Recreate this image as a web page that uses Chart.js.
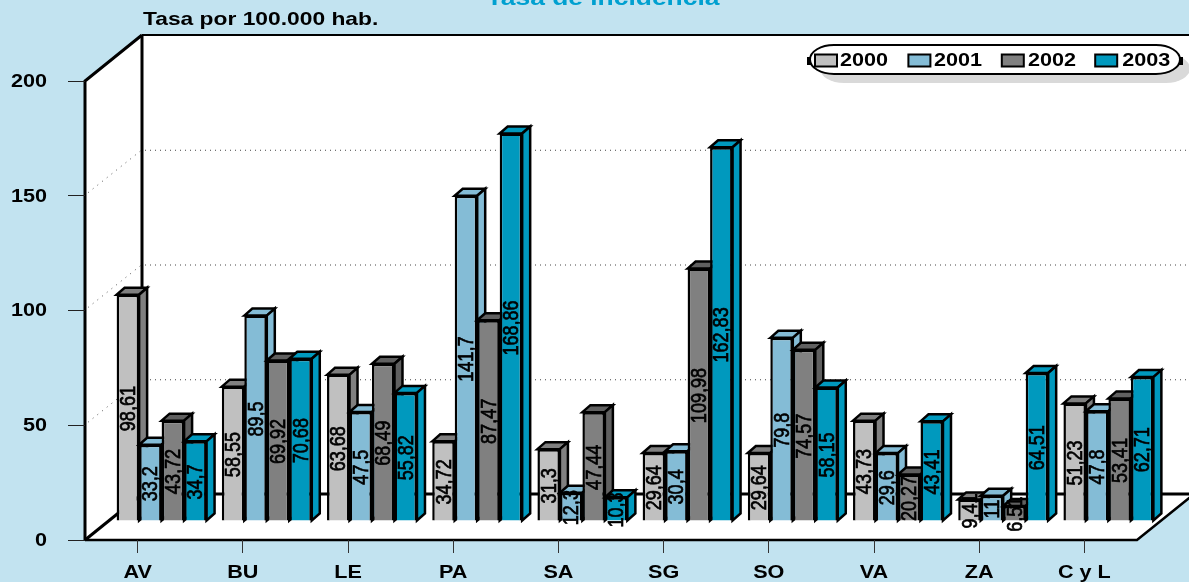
<!DOCTYPE html>
<html><head><meta charset="utf-8">
<style>html,body{margin:0;padding:0;background:#C2E3F0;overflow:hidden}canvas{display:block}</style>
<script src="https://cdn.jsdelivr.net/npm/chart.js@4/dist/chart.umd.js"></script>
</head><body><canvas id="c" width="1189" height="582"></canvas>
<script>
const categories = ['AV','BU','LE','PA','SA','SG','SO','VA','ZA','C y L'];
const years = ['2000','2001','2002','2003'];
const v2000 = [98.61,58.55,63.68,34.72,31.3,29.64,29.64,43.73,9.41,51.23];
const v2001 = [33.2,89.5,47.5,141.7,12.3,30.4,79.8,29.6,11,47.8];
const v2002 = [43.72,69.92,68.49,87.47,47.44,109.98,74.57,20.27,6.51,53.41];
const v2003 = [34.7,70.68,55.82,168.86,10.3,162.83,58.15,43.41,64.51,62.71];
const series = [v2000,v2001,v2002,v2003];
const fronts = ['#C0C0C0','#84BCD6','#808080','#0099BE'];
const sides = ['#808080','#84BCD6','#606060','#0099BE'];
const yTicks = [0,50,100,150,200];
const titleText = 'Tasa de incidencia';
const unitText = 'Tasa por 100.000 hab.';

const BG = '#C2E3F0', WALL_DX = 57, WALL_DY = -46, BAR_DX = 24, BAR_DY = -19, D_X = 8, D_Y = -7;
const canvas = document.getElementById('c');
const ctx = canvas.getContext('2d');

// Reference type is anamorphically widened: stretch text horizontally around its anchor.
const rawFill = ctx.fillText.bind(ctx);
ctx.fillText = function (t, x, y, m) {
  ctx.save(); ctx.translate(x, y); ctx.scale(1.2, 1);
  if (m === undefined) rawFill(t, 0, 0); else rawFill(t, 0, 0, m);
  ctx.restore();
};

const line = (pts, w, color, dash) => {
  ctx.save(); ctx.beginPath(); ctx.lineWidth = w; ctx.strokeStyle = color; ctx.setLineDash(dash || []);
  pts.forEach((p, i) => i ? ctx.lineTo(p[0], p[1]) : ctx.moveTo(p[0], p[1])); ctx.stroke(); ctx.restore();
};
const poly = (pts, fill, stroke) => {
  ctx.beginPath(); pts.forEach((p, i) => i ? ctx.lineTo(p[0], p[1]) : ctx.moveTo(p[0], p[1])); ctx.closePath();
  ctx.fillStyle = fill; ctx.fill();
  if (stroke) { ctx.lineWidth = 2.5; ctx.strokeStyle = stroke; ctx.lineJoin = 'miter'; ctx.stroke(); }
};
const pill = (x, y, w, h) => {
  const rx = 24, ry = h / 2;
  ctx.beginPath();
  ctx.ellipse(x + rx, y + ry, rx, ry, 0, Math.PI / 2, Math.PI * 1.5);
  ctx.ellipse(x + w - rx, y + ry, rx, ry, 0, -Math.PI / 2, Math.PI / 2);
  ctx.closePath();
};

const scene = {
  id: 'scene',
  beforeLayout(chart) {
    [chart.legend, chart.titleBlock].forEach(b => {
      if (b && !b._flat) { const f = b.update; b.update = function (...a) { f.apply(this, a); this.height = 0; }; b._flat = true; }
    });
  },
  beforeDraw(chart) {
    const x = chart.scales.x, y = chart.scales.y;
    const L = x.left, R = x.right, T = y.getPixelForValue(200), B = y.getPixelForValue(0);
    const W = chart.width;
    ctx.save();
    ctx.fillStyle = BG; ctx.fillRect(0, 0, W, chart.height);
    const bx = L + WALL_DX, bt = T + WALL_DY, bb = B + WALL_DY;
    poly([[bx, bt], [W + 10, bt], [W + 10, bb], [bx, bb]], '#fff');
    poly([[L, T], [bx, bt], [bx, bb], [L, B]], '#fff');
    poly([[L, B], [bx, bb], [R + WALL_DX, bb], [R, B]], '#fff');
    [50, 100, 150].forEach(v => {
      const p = y.getPixelForValue(v);
      line([[L + 3, p - 3], [bx, p + WALL_DY]], 1, '#555', [1, 5]);
      line([[bx + 3, p + WALL_DY + .5], [W, p + WALL_DY + .5]], 1, '#444', [1, 4]);
    });
    line([[bx, bt], [W + 5, bt]], 2, '#000');
    line([[L, B], [L, T], [bx, bt]], 3, '#000');
    line([[bx, bt], [bx, bb], [W + 5, bb]], 3, '#000');
    line([[L, B], [bx, bb]], 3, '#000');
    line([[L, B], [R, B], [R + WALL_DX, bb]], 2.5, '#000');
    // legend pill
    ctx.fillStyle = '#D9D9D9'; pill(820, 54, 370, 29); ctx.fill();
    ctx.fillStyle = '#000'; ctx.fillRect(807, 57, 4, 8); ctx.fillRect(1179, 57, 4, 8);
    ctx.fillStyle = '#fff'; pill(810, 45, 370, 29); ctx.fill();
    ctx.lineWidth = 2; ctx.strokeStyle = '#000'; ctx.stroke();
    chart.data.datasets.forEach((d, i) => {
      const bxx = 814 + 93.4 * i;
      ctx.fillStyle = d.backgroundColor; ctx.fillRect(bxx + 1, 54.5, 22, 12);
      ctx.lineWidth = 2; ctx.strokeStyle = '#000'; ctx.strokeRect(bxx + 1, 54.5, 22, 12);
    });
    // unit caption
    ctx.fillStyle = '#000'; ctx.font = 'bold 19px "Liberation Sans"'; ctx.textAlign = 'left'; ctx.textBaseline = 'alphabetic';
    ctx.fillText(unitText, 143, 25);
    ctx.restore();
    const lg = chart.legend; lg.left = 786; lg.right = 1600; lg.top = 24;
    const tb = chart.titleBlock; tb.top = -14; tb.left = 8.5; tb.right = chart.width + 8.5;
  },
  beforeDatasetsDraw(chart) {
    ctx.save(); ctx.translate(BAR_DX, BAR_DY);
    const n = chart.data.datasets.length;
    for (let i = 0; i < n; i++) {
      const meta = chart.getDatasetMeta(i);
      meta.data.forEach(b => {
        const l = b.x - b.width / 2, r = b.x + b.width / 2, t = b.y, bo = b.base;
        poly([[l, t], [l + D_X, t + D_Y], [r + D_X, t + D_Y], [r, t]], sides[i], '#000');
        poly([[r, t], [r + D_X, t + D_Y], [r + D_X, bo + D_Y], [r, bo]], sides[i], '#000');
      });
      meta.controller.draw();
    }
    for (let i = 0; i < n; i++) {
      chart.getDatasetMeta(i).data.forEach((b, j) => {
        const t = String(series[i][j]).replace('.', ',');
        ctx.save();
        ctx.translate(b.x + 1, (b.y + b.base) / 2 + 1);
        ctx.rotate(-Math.PI / 2); ctx.scale(0.82, 1);
        ctx.font = '22px "Liberation Sans"'; ctx.fillStyle = '#000'; ctx.textAlign = 'center'; ctx.textBaseline = 'middle';
        ctx.lineWidth = 0.7; ctx.strokeStyle = '#000'; ctx.strokeText(t, 0, 0);
        rawFill(t, 0, 0);
        ctx.restore();
      });
    }
    ctx.restore();
    return false;
  }
};

new Chart(ctx, {
  type: 'bar',
  plugins: [scene],
  data: {
    labels: categories,
    datasets: years.map((yr, i) => ({
      label: yr, data: series[i],
      backgroundColor: fronts[i], borderColor: '#000', borderWidth: 2.5,
      categoryPercentage: 0.855, barPercentage: 1
    }))
  },
  options: {
    responsive: false, animation: false,
    layout: { padding: { top: 81, right: 52, left: 0, bottom: 0 } },
    plugins: {
      tooltip: { enabled: false },
      title: { display: true, text: titleText, color: '#00A0D0', padding: 0, font: { family: '"Liberation Sans"', size: 22, weight: 'bold' } },
      legend: {
        display: true, position: 'top', align: 'start',
        labels: {
          boxWidth: 17, boxHeight: 12, padding: 28, color: '#000',
          font: { family: '"Liberation Sans"', size: 18, weight: 'bold' },
          generateLabels: c => Chart.defaults.plugins.legend.labels.generateLabels(c)
            .map(l => ({ ...l, fillStyle: 'transparent', strokeStyle: 'transparent' }))
        }
      }
    },
    scales: {
      x: {
        afterFit: s => { s.height = 42; },
        border: { display: false },
        grid: { display: true, offset: false, drawOnChartArea: false, drawTicks: true, tickLength: 13, color: '#333', lineWidth: 1 },
        ticks: { color: '#000', autoSkip: false, maxRotation: 0, padding: 9, font: { family: '"Liberation Sans"', size: 18, weight: 'bold' } }
      },
      y: {
        min: 0, max: 200,
        afterFit: s => { s.width = 85; },
        afterBuildTicks: s => { s.ticks = yTicks.map(v => ({ value: v })); },
        border: { display: false },
        grid: { drawOnChartArea: false, drawTicks: true, tickLength: 17, color: '#222', lineWidth: 1 },
        ticks: { color: '#000', padding: 21, labelOffset: 1, font: { family: '"Liberation Sans"', size: 18, weight: 'bold' } }
      }
    }
  }
});
</script></body></html>
